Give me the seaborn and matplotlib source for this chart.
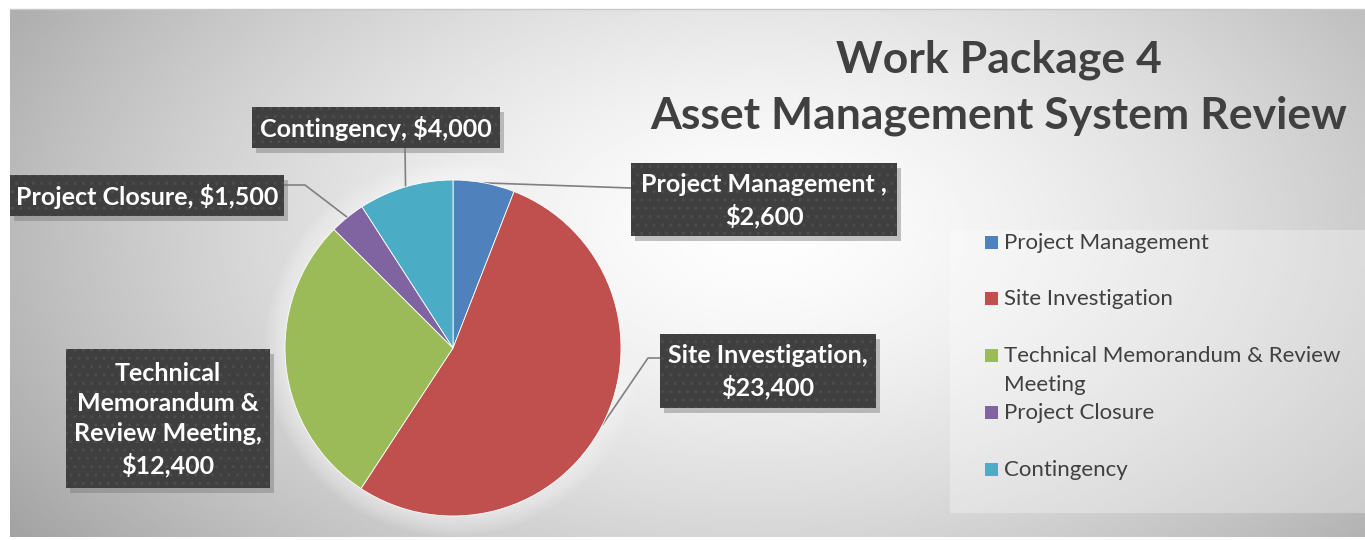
import numpy as np
import matplotlib
matplotlib.use("Agg")
import matplotlib.pyplot as plt
from matplotlib.patches import Rectangle, Circle
import seaborn as sns

# chart data
categories = ["Project Management", "Site Investigation",
              "Technical Memorandum & Review Meeting", "Project Closure", "Contingency"]
costs = [2600, 23400, 12400, 1500, 4000]
box_text = ["Project Management ,\n$2,600", "Site Investigation,\n$23,400",
            "Technical\nMemorandum &\nReview Meeting,\n$12,400",
            "Project Closure, $1,500", "Contingency, $4,000"]
legend_text = ["Project Management", "Site Investigation",
               "Technical Memorandum & Review\nMeeting", "Project Closure", "Contingency"]
colors = sns.color_palette(["#4F81BD", "#C0504D", "#9BBB59", "#8064A2", "#4BACC6"])

sns.set_theme(style="white")
plt.rcParams["font.family"] = ["Lato", "DejaVu Sans"]

W, H = 1365, 540
fig = plt.figure(figsize=(W / 100, H / 100), dpi=100)
fig.patch.set_facecolor("white")

# overlay in pixel coords (background, labels, legend, title)
ov = fig.add_axes([0, 0, 1, 1], zorder=0)
ov.set_xlim(0, W)
ov.set_ylim(H, 0)
ov.axis("off")

# radial grey gradient background
x0, x1, y0, y1 = 10, W, 9, 537
xx, yy = np.meshgrid(np.linspace(x0, x1, 400), np.linspace(y0, y1, 200))
d = np.sqrt(((xx - 760) / 720) ** 2 + ((yy - 230) / 420) ** 2)
shade = 0.995 - 0.25 * np.clip(d, 0, 1.3) ** 1.5
ov.imshow(shade, cmap="gray", vmin=0, vmax=1, extent=(x0, x1, y1, y0),
          aspect="auto", interpolation="bilinear", zorder=0)
ov.plot([x0, x1], [y0, y0], color="#c8c8c8", lw=1, zorder=1)

# soft white glow behind the pie
pcx, pcy, R = 453, 348, 168
for k in range(8):
    ov.add_patch(Circle((pcx, pcy), R + 20 - 2.5 * k, color="white", alpha=0.07, lw=0, zorder=1))

# pie
ax = fig.add_axes([(pcx - R) / W, (H - pcy - R) / H, 2 * R / W, 2 * R / H], zorder=1)
wedges, _ = ax.pie(costs, colors=colors, startangle=90, counterclock=False,
                   wedgeprops=dict(linewidth=0.6, edgecolor="white"))
ax.set_xlim(-1, 1)
ax.set_ylim(-1, 1)
ax.set_aspect("equal")
ax.axis("off")


def edge_point(w):
    t = np.deg2rad((w.theta1 + w.theta2) / 2)
    disp = ax.transData.transform((np.cos(t), np.sin(t)))
    return ov.transData.inverted().transform(disp)


# label boxes: (left, top, right, bottom) in pixels, plus leader path
boxes = [(631, 163, 897, 236), (660, 334, 876, 408), (66, 349, 270, 488),
         (10, 175, 284, 216), (252, 107, 500, 148)]
leaders = [[(631, 188)], [(648, 358), (660, 358)], None,
           [(305, 185), (284, 185)], [(405, 148)]]

for i, w in enumerate(wedges):
    l, t, r, b = boxes[i]
    ov.add_patch(Rectangle((l + 4, t + 5), r - l, b - t, color="#7a7a7a", alpha=0.45, lw=0, zorder=3))
    ov.add_patch(Rectangle((l, t), r - l, b - t, facecolor="#3f3f3f", edgecolor="#4d4d4d",
                           hatch="..", lw=0, zorder=4))
    ov.text((l + r) / 2, (t + b) / 2 + 1, box_text[i], ha="center", va="center", color="white",
            fontsize=18, fontweight="bold", linespacing=1.38, zorder=5)
    if leaders[i] is not None:
        px, py = edge_point(w)
        pts = [(px, py)] + leaders[i]
        ov.plot([p[0] for p in pts], [p[1] for p in pts], color="#808080", lw=1.2, zorder=2)

# title
ov.text(999, 60, "Work Package 4", ha="center", va="center", fontsize=32,
        fontweight="bold", color="#404040", zorder=5)
ov.text(999, 116, "Asset Management System Review", ha="center", va="center", fontsize=32,
        fontweight="bold", color="#404040", zorder=5)

# legend
ov.add_patch(Rectangle((950, 230), W - 950, 283, color="white", alpha=0.3, lw=0, zorder=2))
leg_y = [243, 299, 356, 413, 470]
for c, lab, yv in zip(colors, legend_text, leg_y):
    ov.add_patch(Rectangle((985, yv - 7), 13, 13, color=c, lw=0, zorder=5))
    for k, part in enumerate(lab.split("\n")):
        ov.text(1004, yv + 29 * k, part, ha="left", va="center", color="#404040",
                fontsize=16, zorder=5)

fig.savefig("out.png", dpi=100, facecolor="white")
